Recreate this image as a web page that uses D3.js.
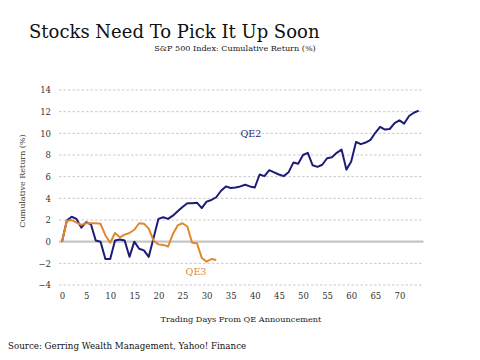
<!DOCTYPE html>
<html><head><meta charset="utf-8">
<script src="https://cdn.jsdelivr.net/npm/d3@7"></script>
<style>body{margin:0;background:#fff}svg{display:block}</style>
</head><body>
<script>
const qe2 = [0, 1.95, 2.3, 2.1, 1.3, 1.8, 1.6, 0.1, 0.0, -1.6, -1.6, 0.1, 0.2, 0.1, -1.4, 0.0, -0.65, -0.8, -1.4, 0.35,
  2.1, 2.25, 2.1, 2.4, 2.8, 3.2, 3.55, 3.55, 3.6, 3.1, 3.7, 3.85, 4.1, 4.7, 5.1, 4.95, 5.0, 5.1, 5.25, 5.1, 5.0,
  6.2, 6.05, 6.6, 6.4, 6.2, 6.05, 6.4, 7.3, 7.2, 8.0, 8.2, 7.05, 6.9, 7.1, 7.7, 7.8, 8.2, 8.5, 6.65, 7.4,
  9.2, 9.0, 9.15, 9.4, 10.05, 10.6, 10.35, 10.4, 10.95, 11.2, 10.9, 11.6, 11.9, 12.1];
const qe3 = [0, 1.9, 2.0, 1.75, 1.55, 1.7, 1.7, 1.7, 1.65, 0.6, -0.1, 0.8, 0.4, 0.65, 0.8, 1.1, 1.7, 1.65, 1.2, 0.1,
  -0.25, -0.3, -0.45, 0.7, 1.5, 1.7, 1.4, -0.1, -0.15, -1.5, -1.85, -1.6, -1.7];
const yTicks = [-4, -2, 0, 2, 4, 6, 8, 10, 12, 14];
const xTicks = [0, 5, 10, 15, 20, 25, 30, 35, 40, 45, 50, 55, 60, 65, 70];
const seriesNames = ["QE2", "QE3"];
const colors = ["#1c1c78", "#e0882e"];

const W = 480, H = 360;
const svg = d3.select("body").append("svg").attr("width", W).attr("height", H);
const font = "DejaVu Serif, Liberation Serif, serif";

const x = d3.scaleLinear().domain([0, 75]).range([62, 423.5]);
const y = d3.scaleLinear().domain([-4, 14]).range([285, 90]);

// grid
svg.append("g").selectAll("line").data(yTicks.filter(d => d !== 0)).join("line")
  .attr("x1", 59).attr("x2", x(75)).attr("y1", d => y(d)).attr("y2", d => y(d))
  .attr("stroke", "#c9c9c9").attr("stroke-width", 1).attr("stroke-dasharray", "2.5,2");
svg.append("line").attr("x1", 59).attr("x2", x(75)).attr("y1", y(0)).attr("y2", y(0))
  .attr("stroke", "#c6c6c6").attr("stroke-width", 2.2);

// y axis labels
const yAxis = d3.axisLeft(y).tickValues(yTicks).tickSize(0).tickPadding(0).tickFormat(d3.format("d"));
const gy = svg.append("g").attr("transform", "translate(51,0)").call(yAxis);
gy.select(".domain").remove();
gy.selectAll("text").attr("font-family", font).attr("font-size", 8.5).attr("fill", "#333");

const xAxis = d3.axisBottom(x).tickValues(xTicks).tickSize(0).tickPadding(0).tickFormat(d3.format("d"));
const gx = svg.append("g").attr("transform", "translate(0,293)").call(xAxis);
gx.select(".domain").remove();
gx.selectAll("text").attr("font-family", font).attr("font-size", 8.5).attr("fill", "#333");

// lines
const line = d3.line().x((d, i) => x(i)).y(d => y(d));
[qe2, qe3].forEach((s, k) => {
  svg.append("path").datum(s).attr("d", line).attr("fill", "none")
    .attr("stroke", colors[k]).attr("stroke-width", 2).attr("stroke-linejoin", "round");
});

// series labels
svg.append("text").attr("x", x(39.2)).attr("y", 137).attr("text-anchor", "middle")
  .attr("font-family", font).attr("font-size", 9.5).attr("fill", colors[0]).text(seriesNames[0]);
svg.append("text").attr("x", x(27.8)).attr("y", 275).attr("text-anchor", "middle")
  .attr("font-family", font).attr("font-size", 9.5).attr("fill", colors[1]).text(seriesNames[1]);

// titles
svg.append("text").attr("x", 29).attr("y", 38).attr("font-family", font).attr("font-size", 18)
  .attr("fill", "#111").text("Stocks Need To Pick It Up Soon");
svg.append("text").attr("x", 235).attr("y", 51).attr("text-anchor", "middle").attr("font-family", font)
  .attr("font-size", 8.1).attr("fill", "#222").text("S&P 500 Index: Cumulative Return (%)");
svg.append("text").attr("transform", "translate(25,181) rotate(-90)").attr("text-anchor", "middle")
  .attr("font-family", font).attr("font-size", 8).attr("fill", "#333").text("Cumulative Return (%)");
svg.append("text").attr("x", 241).attr("y", 322).attr("text-anchor", "middle").attr("font-family", font)
  .attr("font-size", 8.2).attr("fill", "#222").text("Trading Days From QE Announcement");
svg.append("text").attr("x", 8).attr("y", 349).attr("font-family", font)
  .attr("font-size", 8.7).attr("fill", "#111").text("Source: Gerring Wealth Management, Yahoo! Finance");
</script>
</body></html>
